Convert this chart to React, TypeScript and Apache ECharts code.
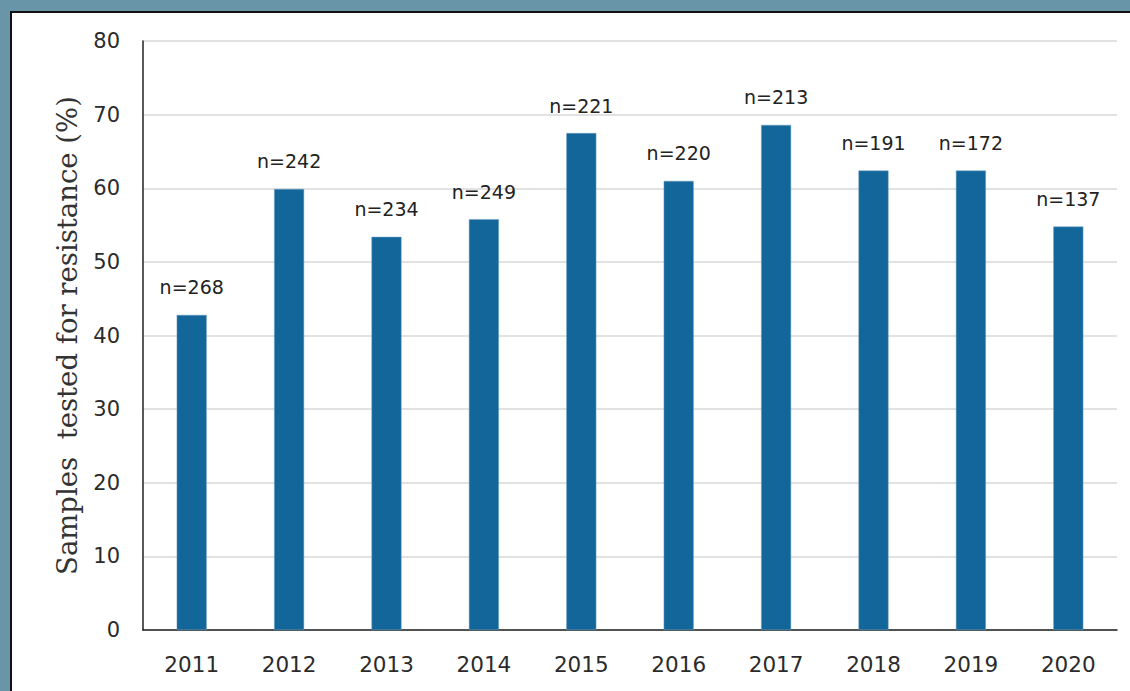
import React, { useEffect, useRef } from "react";
import * as echarts from "echarts";

const years = ["2011", "2012", "2013", "2014", "2015", "2016", "2017", "2018", "2019", "2020"];
const percentTested = [42.8, 59.9, 53.4, 55.8, 67.5, 61.0, 68.6, 62.4, 62.4, 54.8];
const sampleCounts = ["n=268", "n=242", "n=234", "n=249", "n=221", "n=220", "n=213", "n=191", "n=172", "n=137"];
const yTitle = "Samples  tested for resistance (%)";

export default function App() {
  const ref = useRef<HTMLDivElement>(null);
  useEffect(() => {
    if (!ref.current) return;
    const chart = echarts.init(ref.current, null, { renderer: "svg" });
    chart.setOption({
      animation: false,
      grid: { left: 143, right: 13, top: 41, bottom: 61 },
      xAxis: {
        type: "category",
        data: years,
        axisLine: { show: true, lineStyle: { color: "#222", width: 1.5 } },
        axisTick: { show: false },
        axisLabel: { color: "#2b2b2b", fontFamily: "DejaVu Sans", fontSize: 21.5, margin: 23 },
      },
      yAxis: {
        type: "value",
        min: 0,
        max: 80,
        interval: 10,
        name: yTitle,
        nameLocation: "middle",
        nameGap: 62,
        nameTextStyle: { color: "#333", fontFamily: "DejaVu Serif", fontSize: 27.5 },
        axisLine: { show: true, lineStyle: { color: "#222", width: 1.5 } },
        axisTick: { show: false },
        splitLine: { lineStyle: { color: "#d9d9d9", width: 1.5 } },
        axisLabel: { color: "#2b2b2b", fontFamily: "DejaVu Sans", fontSize: 21, margin: 23 },
      },
      series: [
        {
          type: "bar",
          data: percentTested.map((v, i) => ({ value: v, label: { formatter: sampleCounts[i] } })),
          barWidth: 30,
          itemStyle: { color: "#12669a", borderColor: "#6fa3c4", borderWidth: 0.5 },
          label: {
            show: true,
            position: "top",
            distance: 18,
            color: "#222",
            fontFamily: "DejaVu Sans",
            fontSize: 19,
          },
        },
      ],
    });
    return () => chart.dispose();
  }, []);

  return (
    <div style={{ position: "fixed", left: 0, top: 0, width: 1130, height: 691, background: "#6896a8" }}>
      <div
        style={{
          position: "absolute",
          left: 10,
          top: 11,
          right: 0,
          bottom: 0,
          background: "#fff",
          borderLeft: "2px solid #111",
          borderTop: "2px solid #111",
        }}
      />
      <div ref={ref} style={{ position: "absolute", left: 0, top: 0, width: 1130, height: 691 }} />
    </div>
  );
}
